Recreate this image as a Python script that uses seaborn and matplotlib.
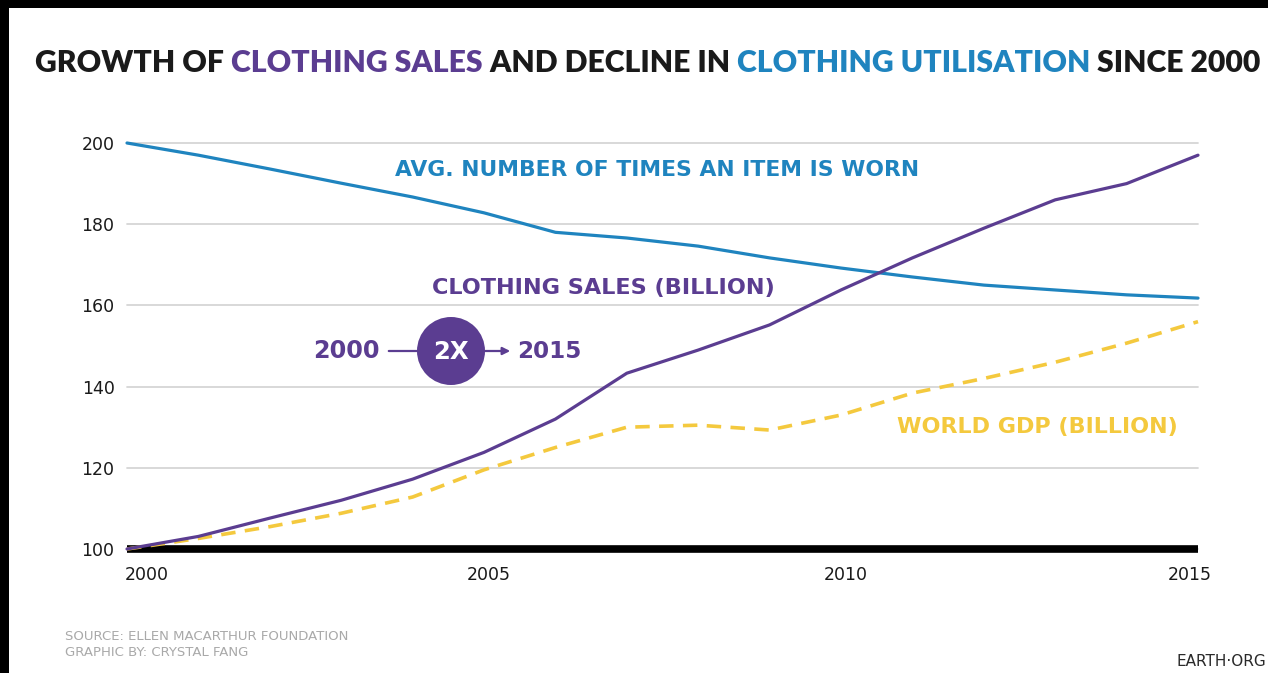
import matplotlib
matplotlib.use("Agg")
import matplotlib.pyplot as plt
import matplotlib.transforms as mtransforms
from matplotlib.patches import Ellipse, FancyArrowPatch, Rectangle
import pandas as pd
import seaborn as sns

# ---- data -------------------------------------------------------------
years = list(range(2000, 2016))
times_worn = [200, 197, 193.6, 190.1, 186.7, 182.8, 178.0, 176.6,
              174.6, 171.7, 169.2, 167.0, 165.0, 163.8, 162.6, 161.8]
clothing_sales = [100, 103.1, 107.6, 112.0, 117.2, 123.8, 132.0, 143.3,
                  149.0, 155.2, 163.8, 171.7, 179.0, 186.0, 190.0, 197.0]
world_gdp = [100, 102.6, 105.5, 108.8, 112.8, 119.5, 125.0, 130.0,
             130.5, 129.3, 133.0, 138.4, 142.0, 146.0, 150.7, 156.0]
y_ticks = [100, 120, 140, 160, 180, 200]
x_ticks = [2000, 2005, 2010, 2015]

title_parts = ["GROWTH OF ", "CLOTHING SALES", " AND DECLINE IN ",
               "CLOTHING UTILISATION", " SINCE 2000"]
label_worn = "AVG. NUMBER OF TIMES AN ITEM IS WORN"
label_sales = "CLOTHING SALES (BILLION)"
label_gdp = "WORLD GDP (BILLION)"
source_lines = ["SOURCE: ELLEN MACARTHUR FOUNDATION", "GRAPHIC BY: CRYSTAL FANG"]
brand = "EARTH·ORG"

# ---- style ------------------------------------------------------------
BLUE = "#1f84bf"
PURPLE = "#5b3d91"
YELLOW = "#f4c93e"
GRID = "#d6d6d6"
INK = "#1a1a1a"

sns.set_theme(style="white")
plt.rcParams["font.family"] = ["DejaVu Sans"]

W, H = 1268, 673
fig = plt.figure(figsize=(W / 100, H / 100), dpi=100, facecolor="white")
renderer = fig.canvas.get_renderer()


def fpos(x, y):
    """pixel position (origin top-left) -> figure fraction"""
    return x / W, 1 - y / H


def text_width(s, **kw):
    t = fig.text(0, 0, s, **kw)
    w = t.get_window_extent(renderer).width
    t.remove()
    return w


def fitted_text(s, x, y, width, size=14, **kw):
    fkw = {k: v for k, v in kw.items() if k in ("fontweight", "family")}
    fs = size * width / text_width(s, fontsize=size, **fkw)
    return fig.text(*fpos(x, y), s, fontsize=fs, **kw)


# black frame edges of the graphic
fig.add_artist(Rectangle((0, 1 - 8 / H), 1, 8 / H, transform=fig.transFigure,
                         facecolor="black", edgecolor="none"))
fig.add_artist(Rectangle((0, 0), 9 / W, 1, transform=fig.transFigure,
                         facecolor="black", edgecolor="none"))

# ---- plot area ---------------------------------------------------------
left, right, top, bottom = 127, 1198, 143, 549
ax = fig.add_axes([left / W, 1 - bottom / H, (right - left) / W, (bottom - top) / H])

df = pd.DataFrame({"year": years, "worn": times_worn,
                   "sales": clothing_sales, "gdp": world_gdp})

sns.lineplot(data=df, x="year", y="gdp", ax=ax, color=YELLOW, linewidth=2.6,
             linestyle=(0, (4, 2.6)), clip_on=False, zorder=3)
sns.lineplot(data=df, x="year", y="worn", ax=ax, color=BLUE, linewidth=2.3,
             clip_on=False, zorder=4)
sns.lineplot(data=df, x="year", y="sales", ax=ax, color=PURPLE, linewidth=2.3,
             clip_on=False, zorder=5)

ax.set_xlim(2000, 2015)
ax.set_ylim(100, 200)
ax.set_xlabel("")
ax.set_ylabel("")
ax.set_yticks(y_ticks)
ax.set_xticks(x_ticks)
ax.set_xticklabels([str(v) for v in x_ticks])
ax.set_yticklabels([str(v) for v in y_ticks])
ax.tick_params(axis="both", length=0, labelsize=12.5, colors=INK)
ax.tick_params(axis="y", pad=9)
ax.tick_params(axis="x", pad=12)

ax.yaxis.grid(True, color=GRID, linewidth=1.3)
ax.xaxis.grid(False)
ax.set_axisbelow(True)
for gl in ax.get_ygridlines():
    gl.set_clip_on(False)
for side in ("top", "right", "left"):
    ax.spines[side].set_visible(False)
ax.spines["bottom"].set_color("black")
ax.spines["bottom"].set_linewidth(5.5)
ax.spines["bottom"].set_capstyle("butt")
ax.spines["bottom"].set_zorder(2)
ax.patch.set_alpha(0)

# nudge year labels horizontally
for lab, dx in zip(ax.get_xticklabels(), [20, 5, 5, -8]):
    lab.set_transform(lab.get_transform() +
                      mtransforms.ScaledTranslation(dx / 100, 0, fig.dpi_scale_trans))

# ---- title (multi-coloured) --------------------------------------------
title_colors = [INK, PURPLE, INK, BLUE, INK]
tkw = dict(fontweight="heavy", family=["Lato", "DejaVu Sans"])
full = "".join(title_parts)
base = 20
tsize = base * 1223 / text_width(full, fontsize=base, **tkw)
bar_w = text_width("|", fontsize=tsize, **tkw)
x0 = 35
prefix = ""
for part, col in zip(title_parts, title_colors):
    off = text_width(prefix + "|", fontsize=tsize, **tkw) - bar_w if prefix else 0
    fig.text(*fpos(x0 + off, 63), part, fontsize=tsize, color=col,
             ha="left", va="center", **tkw)
    prefix += part

# ---- series labels ------------------------------------------------------
fitted_text(label_worn, 657, 170, 525, color=BLUE, fontweight="bold",
            ha="center", va="center")
fitted_text(label_sales, 603, 288, 343, color=PURPLE, fontweight="bold",
            ha="center", va="center")
fitted_text(label_gdp, 1037, 427, 281, color=YELLOW, fontweight="bold",
            ha="center", va="center")

# 2000 -> 2X -> 2015 badge
fitted_text("2000", 380, 351, 66, color=PURPLE, fontweight="bold",
            ha="right", va="center")
fitted_text("2015", 517, 351, 64, color=PURPLE, fontweight="bold",
            ha="left", va="center")
fig.add_artist(FancyArrowPatch(fpos(386, 351), fpos(420, 351),
                               transform=fig.transFigure, arrowstyle="-",
                               color=PURPLE, linewidth=1.6))
fig.add_artist(FancyArrowPatch(fpos(482, 351), fpos(513, 351),
                               transform=fig.transFigure, arrowstyle="-|>",
                               mutation_scale=11, color=PURPLE, linewidth=1.6))
cx, cy = fpos(451, 351)
fig.add_artist(Ellipse((cx, cy), 68 / W, 68 / H, transform=fig.transFigure,
                       facecolor=PURPLE, edgecolor="none", zorder=6))
fitted_text("2X", 451, 352, 36, color="white", fontweight="bold",
            ha="center", va="center", zorder=7)

# ---- footer -------------------------------------------------------------
src = fitted_text(source_lines[0], 65, 636, 287, color="#a9a9a9",
                  ha="left", va="center")
fig.text(*fpos(65, 653), source_lines[1], fontsize=src.get_fontsize(),
         color="#a9a9a9", ha="left", va="center")
fig.text(*fpos(1266, 661), brand, fontsize=11, color="#2a2a2a",
         ha="right", va="center")

fig.savefig("out.png", dpi=100, facecolor="white")
